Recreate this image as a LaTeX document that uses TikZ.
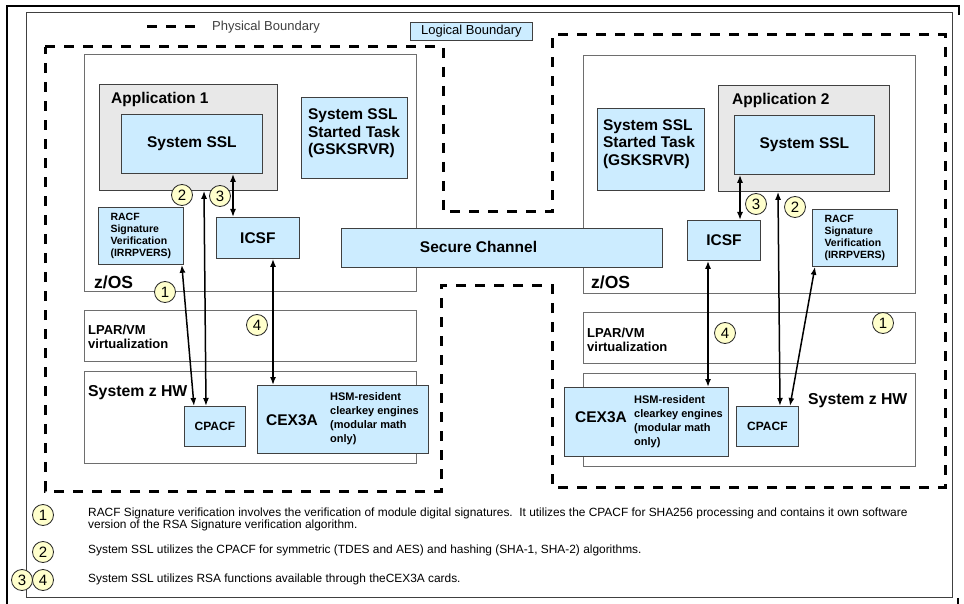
\documentclass[tikz,border=0pt]{standalone}
\usepackage{fontspec}
\setmainfont{Liberation Sans}
\usetikzlibrary{arrows.meta,calc}
\definecolor{lblue}{RGB}{204,236,255}
\definecolor{appgray}{RGB}{232,232,232}
\definecolor{lyel}{RGB}{255,255,204}
\definecolor{edgec}{RGB}{64,64,64}
\definecolor{contc}{RGB}{110,110,110}
\newcommand\fs[2]{\fontsize{#1}{#2}\selectfont}
\tikzset{
  wh/.style 2 args={minimum width=#1, minimum height=#2},
  box/.style={draw=edgec, line width=0.8pt, inner sep=0pt, anchor=north west},
  bluebox/.style={box, fill=lblue},
  appbox/.style={box, fill=appgray},
  cont/.style={draw=contc, line width=0.9pt, fill=white, inner sep=0pt, anchor=north west},
  num/.style={circle, draw=black!85, fill=lyel, line width=0.8pt, minimum size=21pt, inner sep=0pt, font=\fs{15}{15}},
  arr/.style={{Latex[length=8pt,width=6pt]}-{Latex[length=8pt,width=6pt]}, line width=1.5pt},
  phys/.style={line width=3pt, dash pattern=on 10pt off 9pt},
  big/.style={font=\bfseries\fs{15.5}{17.5}},
  lbl/.style={anchor=west, inner sep=0pt},
  legtxt/.style={anchor=west, inner sep=0pt, font=\fs{11.9}{11}},
}
\begin{document}
\begin{tikzpicture}[x=1pt,y=-1pt]
\useasboundingbox (0,0) rectangle (964,604);
% frames
\draw[line width=2pt] (7,604) -- (7,6) -- (959,6) -- (959,15);
\draw[line width=2pt] (958,598) -- (958,604);
\draw[line width=1pt, draw=black!75] (26,13) rectangle (952,597);
% legend top
\draw[phys] (147,27) -- (198,27);
\node[lbl, font=\fs{13}{13}, text=black!75] (physt) at (212,27) {Physical Boundary};
\node[bluebox, wh={122}{18}, font=\fs{13}{13}] (logb) at (410,22) {Logical Boundary};
% physical boundary
\draw[phys] (45,47) -- (443,47) -- (443,212) -- (552,212) -- (552,35) -- (945,35)
  -- (945,487) -- (552,487) -- (552,285) -- (441,285) -- (441,491) -- (45,491) -- cycle;

% ---------- left system ----------
\node[cont, wh={332}{237}] (zos1) at (84,54) {};
\node[lbl, font=\bfseries\fs{17.5}{20}] (zos1t) at (94,282) {z/OS};
\node[appbox, wh={178}{106}] (app1) at (99,84) {};
\node[lbl, big] (app1t) at (111,99) {Application 1};
\node[bluebox, wh={141}{59}, big] (ssl1) at (121,114) {System SSL};
\node[bluebox, wh={106}{81}] (st1) at (301,97) {};
\node[big, align=left, inner sep=0pt] (st1t) at (354,133.5) {System SSL\\Started Task\\(GSKSRVR)};
\node[bluebox, wh={85}{57}, font=\bfseries\fs{10.5}{12}, align=left] (racf1) at (98,207) {RACF\\Signature\\Verification\\(IRRPVERS)};
\node[bluebox, wh={83}{41}, big] (icsf1) at (216,217) {ICSF};
\node[cont, wh={332}{51}] (lpar1) at (84,310) {};
\node[lbl, font=\bfseries\fs{13}{14}, align=left] (lpar1t) at (88,337) {LPAR/VM\\virtualization};
\node[cont, wh={332}{92}] (hw1) at (84,371) {};
\node[lbl, font=\bfseries\fs{15.8}{18}] (hw1t) at (88,393) {System z HW};
\node[bluebox, wh={61}{40}, font=\bfseries\fs{12}{12}] (cpacf1) at (184,406) {CPACF};
\node[bluebox, wh={171}{68}] (cex1) at (257,385) {};
\node[font=\bfseries\fs{15.5}{17}, inner sep=0pt] (cex1a) at (292,420) {CEX3A};
\node[lbl, font=\bfseries\fs{11}{14}, align=left] (cex1b) at (330,419) {HSM-resident\\clearkey engines\\(modular math\\only)};

% ---------- right system ----------
\node[cont, wh={332}{238}] (zos2) at (583,55) {};
\node[lbl, font=\bfseries\fs{17.5}{20}] (zos2t) at (591,282) {z/OS};
\node[appbox, wh={171}{106}] (app2) at (718,85) {};
\node[lbl, big] (app2t) at (732,100) {Application 2};
\node[bluebox, wh={140}{59}, big] (ssl2) at (734,115) {System SSL};
\node[bluebox, wh={107}{82}] (st2) at (597,108) {};
\node[big, align=left, inner sep=0pt] (st2t) at (649,144) {System SSL\\Started Task\\(GSKSRVR)};
\node[bluebox, wh={73}{40}, big] (icsf2) at (687,220) {ICSF};
\node[bluebox, wh={85}{57}, font=\bfseries\fs{10.5}{12}, align=left] (racf2) at (812,209) {RACF\\Signature\\Verification\\(IRRPVERS)};
\node[cont, wh={332}{51}] (lpar2) at (583,312) {};
\node[lbl, font=\bfseries\fs{13}{14}, align=left] (lpar2t) at (587,339.5) {LPAR/VM\\virtualization};
\node[cont, wh={332}{93}] (hw2) at (583,373) {};
\node[lbl, font=\bfseries\fs{15.8}{18}] (hw2t) at (808,401) {System z HW};
\node[bluebox, wh={164}{69}] (cex2) at (564,387) {};
\node[font=\bfseries\fs{15.5}{17}, inner sep=0pt] (cex2a) at (601,417) {CEX3A};
\node[lbl, font=\bfseries\fs{11}{14}, align=left] (cex2b) at (634,422) {HSM-resident\\clearkey engines\\(modular math\\only)};
\node[bluebox, wh={62}{40}, font=\bfseries\fs{12}{12}] (cpacf2) at (736,406) {CPACF};

% secure channel
\node[bluebox, wh={321}{39}] (chan) at (341,228) {};
\node[big, inner sep=0pt] (chant) at (478.5,247) {Secure Channel};

% ---------- arrows ----------
\draw[arr] ($(racf1.south east)+(-2,0)$) -- ($(cpacf1.north west)+(10,0)$);
\draw[arr] ($(app1.south west)+(105,0)$) -- ($(cpacf1.north west)+(22,0)$);
\draw[arr] ($(ssl1.south west)+(112,0)$) -- ($(icsf1.north west)+(17,0)$);
\draw[arr] ($(icsf1.south west)+(57,0)$) -- ($(cex1.north west)+(16,0)$);
\draw[arr] ($(ssl2.south west)+(6,0)$) -- ($(icsf2.north west)+(53,0)$);
\draw[arr] ($(app2.south west)+(60,0)$) -- ($(cpacf2.north west)+(44,0)$);
\draw[arr] ($(racf2.south west)+(3,0)$) -- ($(cpacf2.north west)+(54,0)$);
\draw[arr] ($(icsf2.south west)+(21,0)$) -- ($(cex2.north west)+(144,0)$);

% ---------- numbered circles ----------
\node[num] (n2a) at (182,195) {2};
\node[num] (n3a) at (220,196) {3};
\node[num] (n1a) at (165,292) {1};
\node[num] (n4a) at (257,325) {4};
\node[num] (n3b) at (756,204) {3};
\node[num] (n2b) at (795,207) {2};
\node[num] (n4b) at (725,333) {4};
\node[num] (n1b) at (883,323) {1};

% ---------- legend ----------
\node[num] (l1) at (43,515) {1};
\node[num] (l2) at (43,552) {2};
\node[num] (l3) at (22,580) {3};
\node[num] (l4) at (43,580) {4};
\node[legtxt] (t1a) at (88,513) {RACF Signature verification involves the verification of module digital signatures.\ \ It utilizes the CPACF for SHA256 processing and contains it own software};
\node[legtxt] (t1b) at (88,525) {version of the RSA Signature verification algorithm.};
\node[legtxt] (t2) at (88,550) {System SSL utilizes the CPACF for symmetric (TDES and AES) and hashing (SHA-1, SHA-2) algorithms.};
\node[legtxt] (t3) at (88,579) {System SSL utilizes RSA functions available through theCEX3A cards.};
\end{tikzpicture}
\end{document}
